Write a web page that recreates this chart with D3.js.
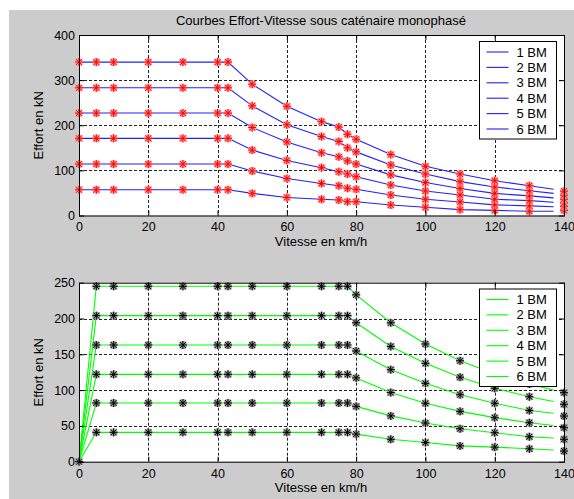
<!DOCTYPE html>
<html>
<head>
<meta charset="utf-8">
<script src="https://cdn.jsdelivr.net/npm/d3@7"></script>
<style>
  body { margin: 0; background: #fff; }
  text { font-family: "Liberation Sans", Arial, sans-serif; fill: #000; }
</style>
</head>
<body>
<div id="chart"></div>
<script>
// vitesses (km/h) des sommets des courbes ; la derniere ligne s'arrete a 137
const vitesses = [0, 5, 10, 20, 30, 40, 43, 50, 60, 70, 75, 77.5, 80, 90, 100, 110, 120, 130, 137];
const vitesseFin = 140;
const series = ['1 BM', '2 BM', '3 BM', '4 BM', '5 BM', '6 BM'];

// caténaire monophasé (haut)
const effortHaut = [
  [57, 57, 57, 57, 57, 57, 57, 49, 40, 36, 34.4, 30.6, 30.6, 23.3, 18.2, 13, 11.4, 9.5, 9.5],
  [114, 114, 114, 114, 114, 114, 114, 98.6, 82, 71, 66, 60.3, 58, 45.4, 35.9, 30, 23.6, 21.4, 19.5],
  [171, 171, 171, 171, 171, 171, 171, 145, 122, 106, 97, 92, 86, 67.6, 54.3, 45.5, 36, 33, 29.3],
  [227, 227, 227, 227, 227, 227, 227, 195, 163, 139, 130, 121, 114, 90, 73, 60, 49, 43.5, 39],
  [283, 283, 283, 283, 283, 283, 283, 243, 201, 175, 164, 150, 141, 112, 92, 75, 63, 55, 49],
  [340, 340, 340, 340, 340, 340, 340, 291, 242, 208, 196, 180, 169, 135, 109, 92, 77, 66, 58]
];
const effortHautFin = [11.5, 20, 28, 36, 45, 54];

// courbes du bas
const effortBas = [
  [0, 41, 41, 41, 41, 41, 41, 41, 41, 41, 41, 41, 38.5, 31.3, 26.8, 22.1, 20.3, 18, 16.3],
  [0, 82, 82, 82, 82, 82, 82, 82, 82, 82, 82, 82, 77.3, 64, 54, 46, 40.5, 34.9, 33],
  [0, 122, 122, 122, 122, 122, 122, 122, 122, 122, 122, 122, 117, 96.6, 81.6, 70.3, 61.5, 54.5, 50.5],
  [0, 163, 163, 163, 163, 163, 163, 163, 163, 163, 163, 163, 154.6, 128.5, 109.5, 93.5, 81.6, 71.5, 67.6],
  [0, 204, 204, 204, 204, 204, 204, 204, 204, 204, 204, 204, 194, 161, 137.4, 118, 102.5, 90.8, 84],
  [0, 245, 245, 245, 245, 245, 245, 245, 245, 245, 245, 245, 233, 194, 164.4, 141, 122.5, 108.5, 100]
];
const effortBasFin = [14.9, 31.3, 47.5, 63.8, 80.2, 96.4];

const xTicks = [0, 20, 40, 60, 80, 100, 120, 140];
const yTicksHaut = [0, 100, 200, 300, 400];
const yTicksBas = [0, 50, 100, 150, 200, 250];

const svgWidth = 574;
const svgHeight = 499;
const svg = d3.select('#chart')
  .append('svg')
  .attr('width', svgWidth)
  .attr('height', svgHeight);

// fond de la figure
svg.append('rect').attr('width', svgWidth).attr('height', svgHeight).attr('fill', '#fff');
svg.append('rect').attr('x', 9).attr('y', 10)
  .attr('width', svgWidth - 9).attr('height', svgHeight - 10).attr('fill', '#cccccc');

svg.append('text')
  .attr('x', 321).attr('y', 25)
  .attr('text-anchor', 'middle')
  .style('font-size', '13px')
  .text('Courbes Effort-Vitesse sous caténaire monophasé');

const star = 'M-4,0H4M0,-4V4M-3,-3L3,3M-3,3L3,-3';

function panel(opt) {
  const x = d3.scaleLinear().domain([0, 140]).range([79, 564]);
  const y = d3.scaleLinear().domain(opt.yDomain).range([opt.bottom, opt.top]);
  const g = svg.append('g');

  g.append('rect')
    .attr('x', x(0)).attr('y', y(opt.yDomain[1]))
    .attr('width', x(140) - x(0)).attr('height', y(0) - y(opt.yDomain[1]))
    .attr('fill', '#fff');

  // grille
  g.selectAll('.gx')
    .data(xTicks.slice(1, -1))
    .join('line')
    .attr('x1', d => Math.round(x(d)) + 0.5).attr('x2', d => Math.round(x(d)) + 0.5)
    .attr('y1', opt.top).attr('y2', opt.bottom)
    .attr('stroke', '#222').attr('stroke-dasharray', '3,2');
  g.selectAll('.gy')
    .data(opt.yTicks.slice(1, -1))
    .join('line')
    .attr('x1', x(0)).attr('x2', x(140))
    .attr('y1', d => Math.round(y(d)) + 0.5).attr('y2', d => Math.round(y(d)) + 0.5)
    .attr('stroke', '#222').attr('stroke-dasharray', '3,2');

  // courbes
  const line = d3.line()
    .x((d, i) => x(vitesses[i]))
    .y(d => y(d));
  g.selectAll('.courbe')
    .data(opt.data)
    .join('path')
    .attr('d', line)
    .attr('fill', 'none')
    .attr('stroke', opt.color)
    .attr('stroke-width', 1.1);

  // marqueurs
  const points = [];
  opt.data.forEach((s, k) => {
    vitesses.slice(0, -1).forEach((v, i) => {
      if (opt.skipZero && v === 0 && k > 0) return;
      points.push([v, s[i]]);
    });
    points.push([vitesseFin, opt.fin[k]]);
  });
  const mk = g.selectAll('.mk')
    .data(points)
    .join('g')
    .attr('transform', d => `translate(${x(d[0])},${y(d[1])})`);
  mk.append('path').attr('d', star)
    .attr('stroke', opt.halo).attr('stroke-width', 2.6).attr('fill', 'none');
  mk.append('path').attr('d', star)
    .attr('stroke', opt.marker).attr('stroke-width', 1).attr('fill', 'none');

  // axes (graduations vers l'interieur)
  const fmt = d3.format('d');
  g.append('g')
    .attr('transform', `translate(0,${opt.bottom})`)
    .call(d3.axisBottom(x).tickValues(xTicks).tickSize(-5).tickPadding(7).tickFormat(fmt));
  g.append('g')
    .attr('transform', `translate(0,${opt.top})`)
    .call(d3.axisTop(x).tickValues(xTicks).tickSize(-5).tickFormat(''));
  g.append('g')
    .attr('transform', `translate(${x(0)},0)`)
    .call(d3.axisLeft(y).tickValues(opt.yTicks).tickSize(-5).tickPadding(4).tickFormat(fmt));
  g.append('g')
    .attr('transform', `translate(${x(140)},0)`)
    .call(d3.axisRight(y).tickValues(opt.yTicks).tickSize(-5).tickFormat(''));
  g.selectAll('.domain').remove();
  g.selectAll('.tick line').attr('stroke', '#000');
  g.selectAll('.tick text').style('font-size', '12.5px').attr('fill', '#000');

  g.append('rect')
    .attr('x', x(0) + 0.5).attr('y', opt.top + 0.5)
    .attr('width', x(140) - x(0)).attr('height', opt.bottom - opt.top)
    .attr('fill', 'none').attr('stroke', '#000');

  // legende
  const lg = g.append('g').attr('transform', `translate(479.5,${opt.legendTop})`);
  lg.append('rect')
    .attr('width', 77).attr('height', 97.5)
    .attr('fill', '#fff').attr('stroke', '#000');
  const item = lg.selectAll('.item')
    .data(series)
    .join('g')
    .attr('transform', (d, i) => `translate(0,${10.5 + i * 15.4})`);
  item.append('line')
    .attr('x1', 7).attr('x2', 29)
    .attr('stroke', opt.color).attr('stroke-width', 1.1);
  item.append('text')
    .attr('x', 37).attr('dy', '0.35em')
    .style('font-size', '13px')
    .text(d => d);

  // titres des axes
  g.append('text')
    .attr('x', 321).attr('y', opt.bottom + 30.5)
    .attr('text-anchor', 'middle')
    .style('font-size', '13px')
    .text('Vitesse en km/h');
  g.append('text')
    .attr('transform', `translate(43,${(opt.top + opt.bottom) / 2}) rotate(-90)`)
    .attr('text-anchor', 'middle')
    .style('font-size', '13px')
    .text('Effort en kN');
}

panel({
  yDomain: [0, 400], yTicks: yTicksHaut, top: 35, bottom: 215.5,
  data: effortHaut, fin: effortHautFin,
  color: '#2020ff', marker: '#ff0000', halo: '#ff9c9c',
  legendTop: 41.5, skipZero: false
});
panel({
  yDomain: [0, 250], yTicks: yTicksBas, top: 282.7, bottom: 461.7,
  data: effortBas, fin: effortBasFin,
  color: '#00ff00', marker: '#000', halo: '#a0a0a0',
  legendTop: 289, skipZero: true
});
</script>
</body>
</html>
